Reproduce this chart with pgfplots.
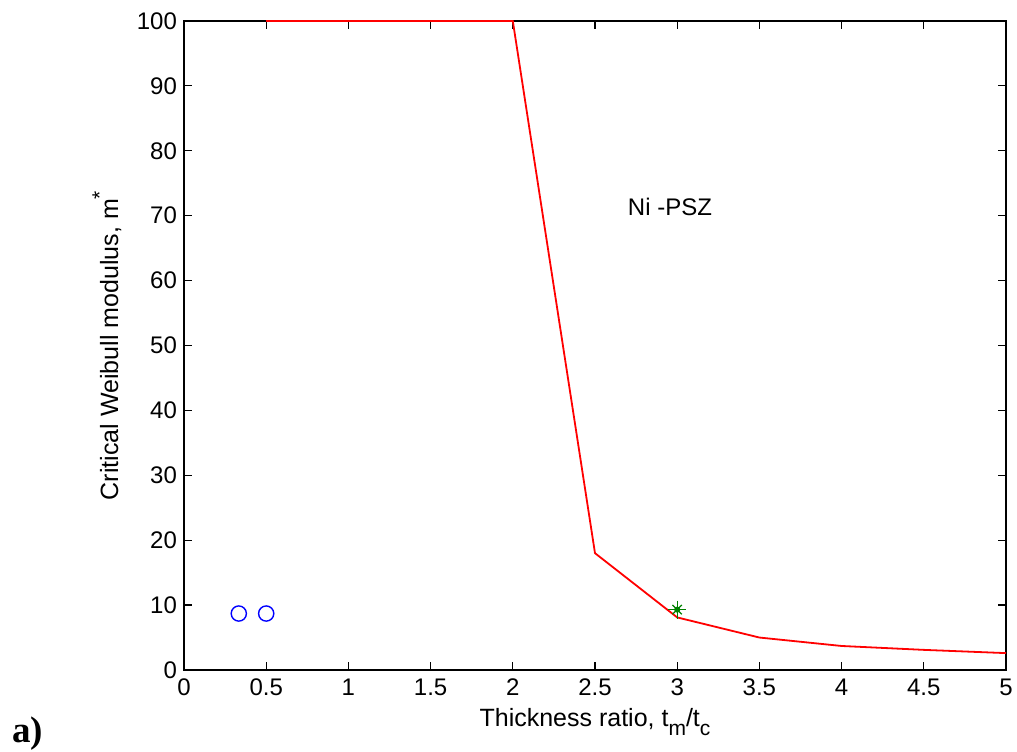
\documentclass[border=0pt]{standalone}
\usepackage{pgfplots}
\pgfplotsset{compat=1.18}
\usepackage{fontspec}
\setmainfont{Liberation Sans}
\newfontfamily\serifbold{Liberation Serif}
\newcommand{\sub}[1]{\raisebox{-0.35em}{\fontsize{10.5}{10.5}\selectfont #1}}
\begin{document}
\begin{tikzpicture}
\begin{axis}[
  name=ax,
  scale only axis,
  width=411pt, height=324.5pt,
  xmin=0, xmax=5, ymin=0, ymax=100,
  xtick={0,0.5,...,5}, ytick={0,10,...,100},
  tick align=inside,
  major tick length=4pt,
  axis line style={line width=0.6pt},
  every tick/.style={black, line width=0.6pt},
  /pgf/number format/assume math mode=true,
  tick label style={font=\fontsize{12}{14}\selectfont},
  xlabel={Thickness ratio, t\sub{m}/t\sub{c}},
  ylabel={Critical Weibull modulus, m\raisebox{0.45em}{\fontsize{10.5}{10.5}\selectfont *}},
  every axis x label/.style={at={(axis description cs:0.5,0)}, anchor=center, yshift=-26pt, font=\fontsize{12.5}{14}\selectfont},
  every axis y label/.style={at={(axis description cs:0,0.5)}, xshift=-38.5pt, rotate=90, anchor=center, font=\fontsize{12.5}{14}\selectfont},
  xticklabel style={yshift=-1pt},
  clip=false,
]
\addplot[red, line width=0.9pt] coordinates {
(0.5,100) (2,100) (2.5,18) (3,8.1) (3.5,5.0) (4,3.7) (4.5,3.1) (5,2.6)};
\addplot[only marks, blue, mark=o, mark size=3.8pt, line width=0.7pt] coordinates {(0.3333,8.7) (0.5,8.7)};
\addplot[only marks, color={rgb,255:red,0;green,128;blue,0}, mark=+, mark size=4.5pt, line width=0.6pt] coordinates {(3,9.3)};
\addplot[only marks, color={rgb,255:red,0;green,128;blue,0}, mark=x, mark size=3.3pt, line width=0.6pt] coordinates {(3,9.3)};
\addplot[only marks, color={rgb,255:red,0;green,128;blue,0}, mark=*, mark size=1.3pt] coordinates {(3,9.3)};
\node[font=\fontsize{12}{14}\selectfont] at (axis cs:2.956,71.3) {Ni -PSZ};
\end{axis}
\node[anchor=base west, inner sep=0pt, font=\serifbold\bfseries\fontsize{18.5}{20}\selectfont] at ([shift={(-86pt,-36.5pt)}]ax.south west) {a)};
\pgfresetboundingbox
\path ([shift={(-92pt,-41pt)}]ax.south west) rectangle ([shift={(5.5pt,10.5pt)}]ax.north east);
\end{tikzpicture}
\end{document}
